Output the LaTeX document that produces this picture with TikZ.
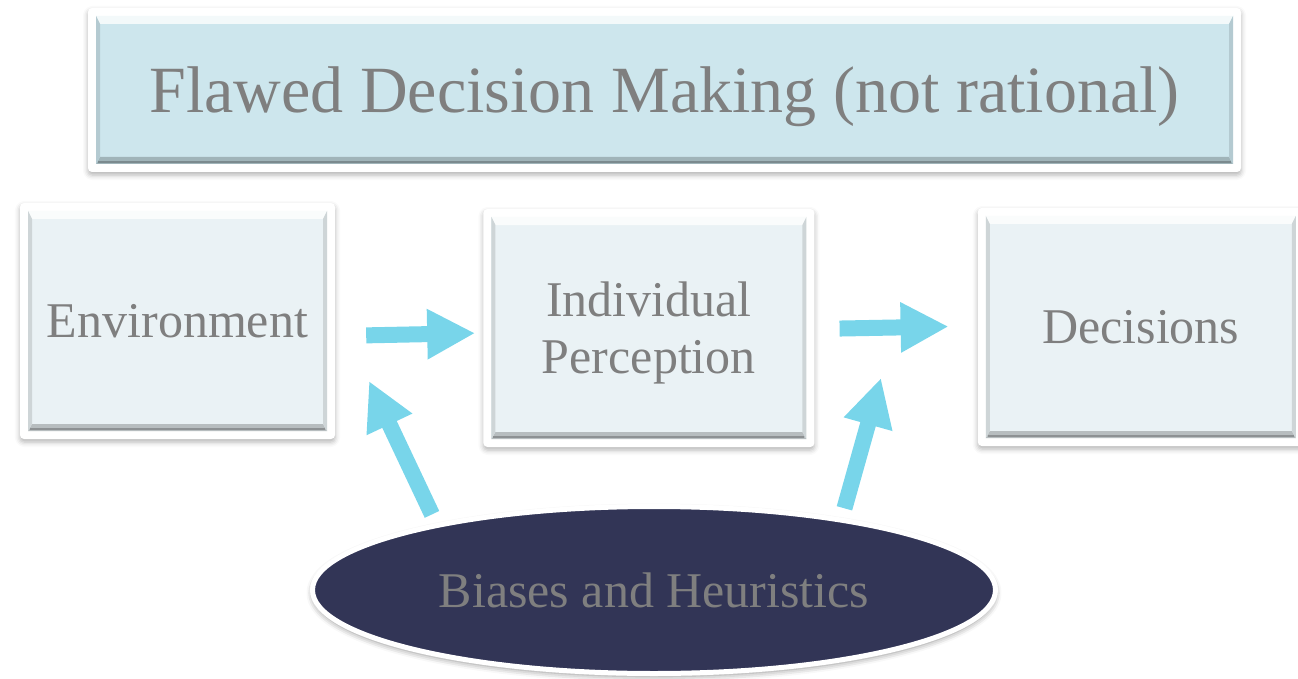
\documentclass[tikz,border=0pt]{standalone}
\usepackage{fontspec}
\setmainfont{Liberation Serif}
\usetikzlibrary{positioning, calc, arrows.meta, shapes.geometric, shadows.blur}

\definecolor{txtgray}{HTML}{7F7F7F}
\definecolor{paneface}{HTML}{EAF2F5}
\definecolor{titleface}{HTML}{CDE6ED}
\definecolor{arrowblue}{HTML}{78D5EA}
\definecolor{biasfill}{HTML}{323556}

\begin{document}
\begin{tikzpicture}[x=1pt,y=-1pt,>={Triangle[length=48pt,width=47pt]}]
	\tikzset{
		panel/.style={rectangle, rounded corners=4pt, fill=white, inner sep=0pt, align=center,
			text=txtgray, font=\fontsize{50}{57}\selectfont, text depth=0pt,
			blur shadow={shadow xshift=0pt, shadow yshift=-3pt, shadow blur radius=5pt, shadow opacity=30},
			path picture={
				\coordinate (pp-nw) at ($(path picture bounding box.north west)+(8pt,-8pt)$);
				\coordinate (pp-se) at ($(path picture bounding box.south east)+(-8pt,8pt)$);
				\fill[sharp corners,#1] (pp-nw) rectangle (pp-se);
				% bevel: top, bottom, sides
				\fill[sharp corners,#1!25!white] (pp-nw) -- (pp-nw -| pp-se) -- ($(pp-nw -| pp-se)+(-4pt,-8pt)$) -- ($(pp-nw)+(4pt,-8pt)$) -- cycle;
				\fill[sharp corners,#1!78!black] (pp-se) -- (pp-se -| pp-nw) -- ($(pp-se -| pp-nw)+(4pt,7pt)$) -- ($(pp-se)+(-4pt,7pt)$) -- cycle;
				\draw[sharp corners,#1!60!black,line width=1.5pt] ($(pp-se -| pp-nw)+(2pt,2pt)$) -- ($(pp-se)+(-2pt,2pt)$);
				\fill[sharp corners,#1!88!black] (pp-nw) -- ($(pp-nw)+(4pt,-8pt)$) -- ($(pp-se -| pp-nw)+(4pt,7pt)$) -- (pp-se -| pp-nw) -- cycle;
				\fill[sharp corners,#1!88!black] (pp-nw -| pp-se) -- ($(pp-nw -| pp-se)+(-4pt,-8pt)$) -- ($(pp-se)+(-4pt,7pt)$) -- (pp-se) -- cycle;
			}},
		panel/.default=paneface,
		bubble/.style={ellipse, fill=biasfill, draw=white, line width=5pt, inner sep=0pt,
			minimum width=683pt, minimum height=167pt, text=txtgray, font=\fontsize{50}{57}\selectfont,
			blur shadow={shadow xshift=0pt, shadow yshift=-3pt, shadow blur radius=6pt, shadow opacity=45}},
		flow/.style={->, line width=16pt, draw=arrowblue}
	}
	\useasboundingbox (0,0) rectangle (1298,679);
	\node[panel=titleface, minimum width=1153pt, minimum height=164pt, font=\fontsize{66}{76}\selectfont] (title) at (664.5,90) {Flawed Decision Making (not rational)};
	\node[panel, minimum width=315pt, minimum height=236pt] (env) at (177.5,321) {Environment};
	\node[panel, minimum width=331pt, minimum height=238pt] (perc) [right=148pt of env, yshift=-7pt] {Individual\\Perception};
	\node[panel, minimum width=326pt, minimum height=238pt] (dec) [right=163pt of perc, yshift=1pt] {Decisions};
	\node[bubble] (bias) at (654,590) {Biases and Heuristics};
	\coordinate (envtip) at (369,381);
	\coordinate (dectip) at (881,378);
	\draw[flow, shorten <=31pt, shorten >=8pt] ([yshift=-15pt]env.east) -- ([yshift=-5pt]perc.west);
	\draw[flow, shorten <=25pt, shorten >=29pt] ([yshift=-1pt]perc.east) -- ([yshift=1pt]dec.west);
	\draw[flow, shorten <=10pt] (bias.163.3) -- (envtip);
	\draw[flow, shorten <=10pt] (bias.21.75) -- (dectip);
\end{tikzpicture}
\end{document}
